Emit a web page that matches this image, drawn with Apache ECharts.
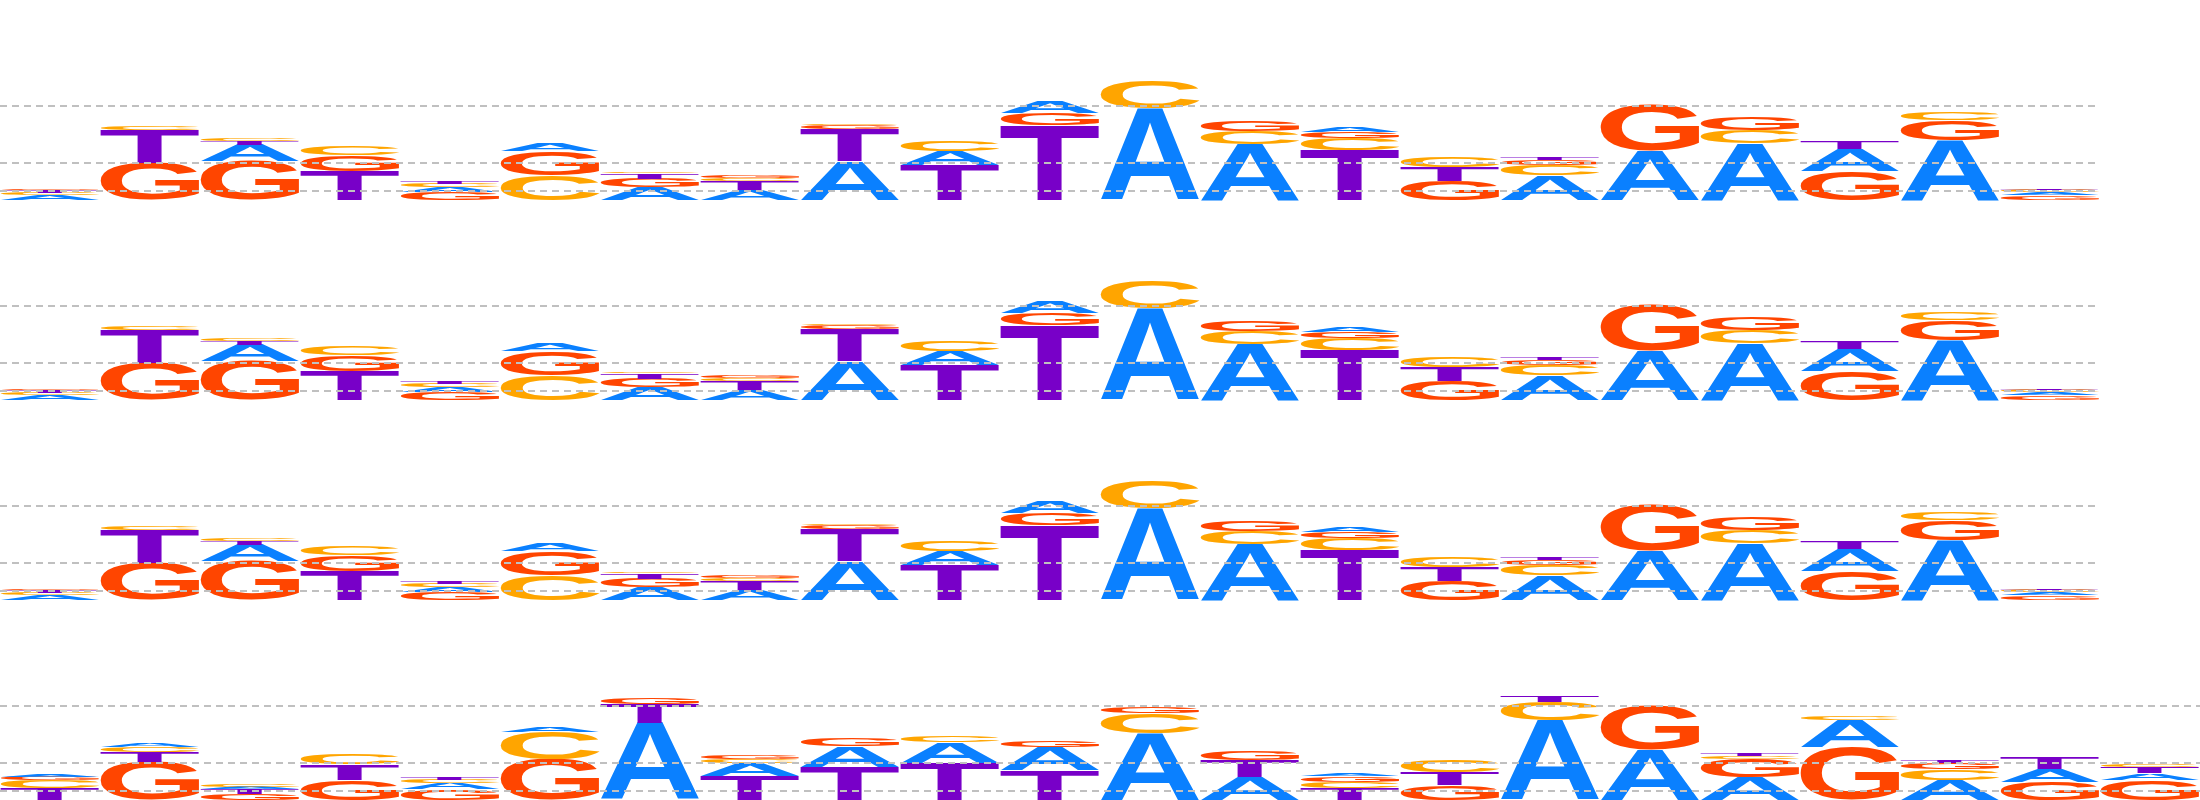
<!DOCTYPE html>
<html><head><meta charset="utf-8">
<script src="https://cdn.jsdelivr.net/npm/echarts@6/dist/echarts.min.js"></script>
<style>html,body{margin:0;padding:0;background:#fff}#c{width:2200px;height:800px}</style>
</head><body><div id="c"></div>
<script>
// ---------- data ----------
const letters = ['A', 'C', 'G', 'T'];
const positionsTop = ['1','2','3','4','5','6','7','8','9','10','11','12','13','14','15','16','17','18','19','20','21'];
const positionsBottom = ['1','2','3','4','5','6','7','8','9','10','11','12','13','14','15','16','17','18','19','20','21','22'];
const gridLevels = [0.943, 0.373, 0.087];

// row 1
const row1A = [0.045,0,0.16,0,0.045,0.07,0.13,0.10,0.39,0.14,0.11,0.92,0.56,0.045,0,0.25,0.49,0.57,0.22,0.60,0.03];
const row1C = [0.03,0.035,0.02,0.085,0.04,0.245,0.012,0.03,0.01,0.11,0,0.27,0.13,0.12,0.10,0.10,0,0.13,0,0.075,0.025];
const row1G = [0.01,0.37,0.39,0.16,0.08,0.24,0.085,0.025,0.035,0,0.115,0,0.105,0.06,0.19,0.055,0.46,0.125,0.29,0.20,0.045];
const row1T = [0.02,0.33,0.04,0.29,0.03,0,0.055,0.085,0.32,0.35,0.75,0,0,0.50,0.14,0.03,0,0,0.075,0,0.01];
// row 2
const row2A = [0.045,0,0.16,0,0.045,0.07,0.13,0.10,0.39,0.14,0.11,0.92,0.56,0.045,0,0.25,0.49,0.57,0.22,0.60,0.03];
const row2C = [0.03,0.035,0.02,0.085,0.04,0.245,0.012,0.03,0.01,0.11,0,0.27,0.13,0.12,0.10,0.10,0,0.13,0,0.075,0.025];
const row2G = [0.01,0.37,0.39,0.16,0.08,0.24,0.085,0.025,0.035,0,0.115,0,0.105,0.06,0.19,0.055,0.46,0.125,0.29,0.20,0.045];
const row2T = [0.02,0.33,0.04,0.29,0.03,0,0.055,0.085,0.32,0.35,0.75,0,0,0.50,0.14,0.03,0,0,0.075,0,0.01];
// row 3
const row3A = [0.045,0,0.16,0,0.045,0.07,0.13,0.10,0.39,0.14,0.11,0.92,0.56,0.045,0,0.25,0.49,0.57,0.22,0.60,0.03];
const row3C = [0.03,0.035,0.02,0.085,0.04,0.245,0.012,0.03,0.01,0.11,0,0.27,0.13,0.12,0.10,0.10,0,0.13,0,0.075,0.025];
const row3G = [0.01,0.37,0.39,0.16,0.08,0.24,0.085,0.025,0.035,0,0.115,0,0.105,0.06,0.19,0.055,0.46,0.125,0.29,0.20,0.045];
const row3T = [0.02,0.33,0.04,0.29,0.03,0,0.055,0.085,0.32,0.35,0.75,0,0,0.50,0.14,0.03,0,0,0.075,0,0.01];
// row 4
const row4A = [0.025,0.04,0.027,0,0.06,0.045,0.77,0.127,0.21,0.21,0.23,0.67,0.23,0.027,0,0.80,0.50,0.227,0.27,0.20,0.123,0.067];
const row4C = [0.08,0.05,0.02,0.10,0.04,0.275,0,0.04,0,0.065,0,0.20,0,0.067,0.117,0.18,0,0.03,0.04,0.107,0,0.023];
const row4G = [0.035,0.38,0.06,0.20,0.105,0.405,0.06,0.035,0.075,0,0.065,0.06,0.095,0.057,0.15,0,0.45,0.18,0.53,0.06,0.183,0.20];
const row4T = [0.117,0.10,0.045,0.155,0.027,0,0.19,0.24,0.33,0.37,0.30,0,0.165,0.117,0.127,0.057,0,0.028,0,0.027,0.11,0.065];

// ---------- styling ----------
const colors = { A: '#0a80ff', C: '#ffa500', G: '#ff4500', T: '#7800c8' };
const FONT = 'bold 200px "Liberation Sans", Arial, sans-serif';

const rows = [
  { cats: positionsTop, A: row1A, C: row1C, G: row1G, T: row1T, width: 2100 },
  { cats: positionsTop, A: row2A, C: row2C, G: row2G, T: row2T, width: 2100 },
  { cats: positionsTop, A: row3A, C: row3C, G: row3G, T: row3T, width: 2100 },
  { cats: positionsBottom, A: row4A, C: row4C, G: row4G, T: row4T, width: 2200 }
];

// glyph metrics (same alignment zrender uses: center / middle)
const ctx = document.createElement('canvas').getContext('2d');
ctx.font = FONT; ctx.textAlign = 'center'; ctx.textBaseline = 'middle';
const metrics = {};
letters.forEach(function (l) {
  const m = ctx.measureText(l);
  metrics[l] = { left: m.actualBoundingBoxLeft, right: m.actualBoundingBoxRight,
                 asc: m.actualBoundingBoxAscent, desc: m.actualBoundingBoxDescent };
});

function makeRender(row) {
  return function (params, api) {
    const i = api.value(0);
    const items = letters.map(function (l) { return { l: l, v: row[l][i] }; })
      .sort(function (a, b) { return b.v - a.v; });
    const bw = api.size([1, 0])[0] * 0.99;
    const cx = api.coord([i, 0])[0];
    let cum = 0;
    const children = [];
    items.forEach(function (o) {
      if (!(o.v > 0)) return;
      const yb = api.coord([i, cum])[1];
      const yt = api.coord([i, cum + o.v])[1];
      cum += o.v;
      const h = yb - yt;
      const m = metrics[o.l];
      const sx = bw / (m.left + m.right);
      const sy = h / (m.asc + m.desc);
      const lcx = (m.right - m.left) / 2;
      const lcy = (m.desc - m.asc) / 2;
      children.push({
        type: 'text', silent: true,
        x: cx - lcx * sx, y: (yb + yt) / 2 - lcy * sy,
        scaleX: sx, scaleY: sy,
        style: { text: o.l, font: FONT, fill: colors[o.l], align: 'center', verticalAlign: 'middle' }
      });
    });
    return { type: 'group', children: children };
  };
}

const grid = [], xAxis = [], yAxis = [], series = [];
rows.forEach(function (row, r) {
  grid.push({ left: 0, top: r * 200, width: row.width, height: 200 });
  xAxis.push({ type: 'category', gridIndex: r, data: row.cats, boundaryGap: true, show: false });
  yAxis.push({ type: 'value', gridIndex: r, min: 0, max: 2, show: false, splitLine: { show: false } });
  series.push({
    type: 'line', xAxisIndex: r, yAxisIndex: r, data: [], silent: true,
    markLine: {
      silent: true, symbol: ['none', 'none'], animation: false,
      label: { show: false },
      lineStyle: { color: '#c0c0c0', type: [7, 5], width: 2 },
      data: gridLevels.map(function (v) { return { yAxis: v }; })
    }
  });
  series.push({
    type: 'custom', xAxisIndex: r, yAxisIndex: r,
    renderItem: makeRender(row),
    encode: { x: 0, y: 1 },
    data: row.cats.map(function (c, i) { return [i, 0]; })
  });
});

const chart = echarts.init(document.getElementById('c'));
chart.setOption({ animation: false, backgroundColor: '#ffffff', grid: grid, xAxis: xAxis, yAxis: yAxis, series: series });
</script>
</body></html>
